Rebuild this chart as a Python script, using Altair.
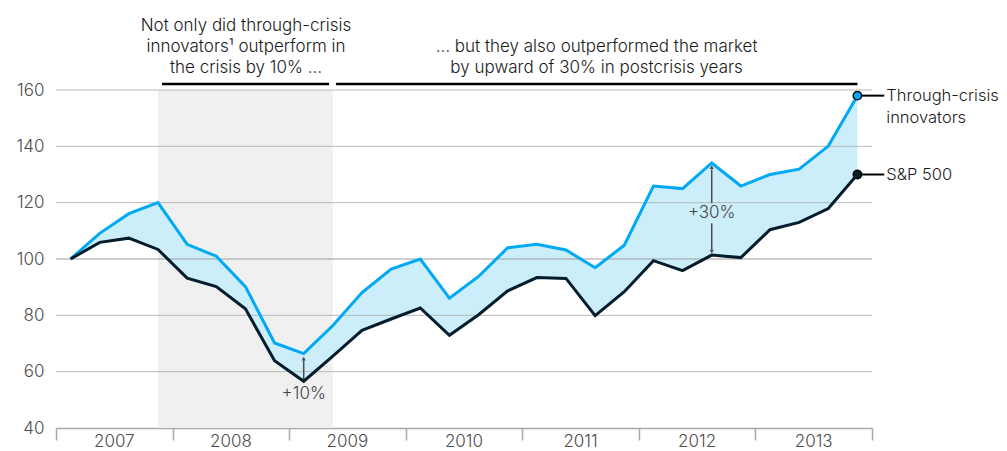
import altair as alt
import pandas as pd

# ---- data ----
years = ["2007", "2008", "2009", "2010", "2011", "2012", "2013"]
innovators = [100, 109.1, 116.1, 120, 105.2, 101, 90.2, 70.2, 66.4, 76.4, 88.1, 96.4,
              100, 86.1, 93.8, 104, 105.2, 103.2, 96.9, 104.9, 125.9, 125, 134.1,
              125.9, 130, 131.9, 140.1, 158]
sp500 = [100, 105.9, 107.4, 103.4, 93.2, 90.2, 82.3, 63.9, 56.6, 65.5, 74.7, 78.7,
         82.6, 72.9, 80.2, 88.7, 93.4, 93.1, 79.9, 88.4, 99.4, 95.9, 101.4, 100.5,
         110.4, 113, 117.9, 130]
y_ticks = [40, 60, 80, 100, 120, 140, 160]
header_left = ["Not only did through-crisis", "innovators\u00b9 outperform in", "the crisis by 10% \u2026"]
header_right = ["\u2026 but they also outperformed the market", "by upward of 30% in postcrisis years"]
series_labels = [["Through-crisis", "innovators"], ["S&P 500"]]

FONT = "Inter"
FW = 300
FS = 17
BLUE = "#00A9F4"
DARK = "#051C2C"
FILL = "#CCEEFB"
SHADE = "#F0F0F0"
GRID = "#B8B8B8"
TXT = "#1A1A1A"
GREY = "#4D4D4D"

n = len(innovators)
df = pd.DataFrame({
    "pos": [i + 0.5 for i in range(n)],
    "innov": innovators,
    "sp": sp500,
})

xs = alt.Scale(domain=[0, 4 * len(years)], nice=False, zero=False)
ys = alt.Scale(domain=[40, 160], nice=False, zero=False)

XAX = alt.Axis(values=list(range(0, 4 * len(years) + 1, 4)), labels=False, ticks=True,
               tickSize=12, tickColor="#A8A8A8", tickWidth=1.5, domainColor="#A8A8A8",
               domainWidth=1.5, grid=False, title=None)
YAX = alt.Axis(values=y_ticks, grid=False, ticks=False, domain=False, labelPadding=12,
               labelFontSize=FS, labelColor=GREY, labelFont=FONT, labelFontWeight=FW,
               title=None)


def X(f):
    return alt.X(f, type="quantitative", scale=xs, axis=XAX)


def Y(f):
    return alt.Y(f, type="quantitative", scale=ys, axis=YAX)


# crisis shading (2007 Q4 to 2009 Q2)
shade = alt.Chart(pd.DataFrame({"x": [3.5], "x2": [9.5], "y": [40], "y2": [160]})).mark_rect(
    color=SHADE).encode(x=X("x"), x2="x2", y=Y("y"), y2="y2")

# area between series
area = alt.Chart(df).mark_area(color=FILL, opacity=1).encode(
    x=X("pos"), y=Y("innov"), y2="sp:Q")

# gridlines above fills
grid_df = pd.DataFrame({"y": y_ticks[1:], "x": 0, "x2": 4 * len(years)})
grid_df["major"] = grid_df["y"] == 100
grid = alt.Chart(grid_df).mark_rule(strokeWidth=1).encode(
    x=X("x"), x2="x2", y=Y("y"),
    color=alt.condition("datum.major", alt.value("#9C9C9C"), alt.value(GRID)),
)

line_innov = alt.Chart(df).mark_line(color=BLUE, strokeWidth=3, strokeJoin="miter").encode(
    x=X("pos"), y=Y("innov"))
line_sp = alt.Chart(df).mark_line(color=DARK, strokeWidth=3, strokeJoin="miter").encode(
    x=X("pos"), y=Y("sp"))

# end markers + connectors + labels
end_df = pd.DataFrame({
    "pos": [n - 0.5, n - 0.5],
    "val": [innovators[-1], sp500[-1]],
    "col": [BLUE, DARK],
    "x2": [n + 0.42, n + 0.42],
})
connectors = alt.Chart(end_df).mark_rule(color="#000000", strokeWidth=2).encode(
    x=X("pos"), x2="x2", y=Y("val"))
dots = alt.Chart(end_df).mark_point(filled=True, size=70, stroke="#000000", strokeWidth=1.5,
                                    opacity=1).encode(
    x=X("pos"), y=Y("val"), fill=alt.Fill("col:N", scale=None))

lab_rows = []
for lines, v in zip(series_labels, [innovators[-1], sp500[-1]]):
    for k, t in enumerate(lines):
        lab_rows.append({"x": n + 0.49, "y": v - k * 8.1, "t": t})
end_labels = alt.Chart(pd.DataFrame(lab_rows)).mark_text(
    align="left", baseline="middle", font=FONT, fontSize=16.5, fontWeight=FW, color=TXT).encode(
    x=X("x"), y=Y("y"), text="t:N")

# headers
hdr_rows = []
for k, t in enumerate(header_left):
    hdr_rows.append({"x": 6.52, "y": 182.7 - k * 7.45, "t": t})
for k, t in enumerate(header_right):
    hdr_rows.append({"x": 18.55, "y": 175.25 - k * 7.45, "t": t})
headers = alt.Chart(pd.DataFrame(hdr_rows)).mark_text(
    align="center", baseline="middle", font=FONT, fontSize=FS, fontWeight=FW, color=TXT).encode(
    x=X("x"), y=Y("y"), text="t:N")

hdr_lines = alt.Chart(pd.DataFrame({"x": [3.64, 9.61], "x2": [9.37, n - 0.5],
                                    "y": [162.1, 162.1]})).mark_rule(
    color="#000000", strokeWidth=2.5).encode(x=X("x"), x2="x2", y=Y("y"))

# difference arrows
arr_df = pd.DataFrame({
    "x": [8.5, 22.5, 22.5],
    "y": [57.3, 119.8, 103.3],
    "y2": [64.0, 131.8, 112.7],
})
arrows = alt.Chart(arr_df).mark_rule(color="#4A4A4A", strokeWidth=1.5).encode(
    x=X("x"), y=Y("y"), y2="y2")
tips_df = pd.DataFrame({
    "x": [8.5, 8.5, 22.5, 22.5],
    "y": [64.6, 56.8, 132.6, 102.6],
    "shape": ["triangle-up", "triangle-down", "triangle-up", "triangle-down"],
})
tips = alt.Chart(tips_df).mark_point(filled=True, size=18, color="#4A4A4A", opacity=1).encode(
    x=X("x"), y=Y("y"), shape=alt.Shape("shape:N", scale=None))
arr_text = alt.Chart(pd.DataFrame({"x": [8.5, 22.5], "y": [52.0, 116.4],
                                   "t": ["+10%", "+30%"]})).mark_text(
    align="center", baseline="middle", font=FONT, fontSize=FS, fontWeight=FW,
    color="#444444").encode(x=X("x"), y=Y("y"), text="t:N")

# year labels centred between ticks
yr_df = pd.DataFrame({"x": [4 * i + 2 for i in range(len(years))], "y": 34.9, "t": years})
yr_text = alt.Chart(yr_df).mark_text(
    align="center", baseline="middle", font=FONT, fontSize=FS, fontWeight=FW,
    color=GREY).encode(x=X("x"), y=Y("y"), text="t:N")

chart = alt.layer(
    shade, area, grid, arrows, tips, line_innov, line_sp, connectors, dots,
    end_labels, headers, hdr_lines, arr_text, yr_text,
).properties(
    width=816, height=338,
    autosize=alt.AutoSizeParams(type="none"),
    padding={"left": 48, "top": 82, "right": 127, "bottom": 23},
).configure_view(stroke=None)

chart.save("out.html", embed_options={"renderer": "svg", "actions": False})
